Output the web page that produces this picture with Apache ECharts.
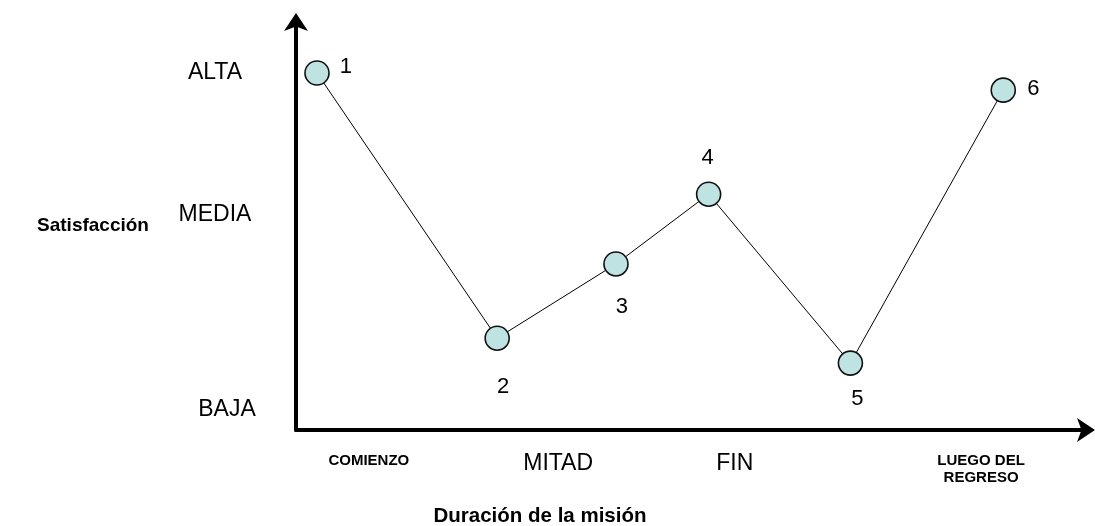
<!DOCTYPE html>
<html>
<head>
<meta charset="utf-8">
<script src="https://cdn.jsdelivr.net/npm/echarts@6/dist/echarts.min.js"></script>
<style>html,body{margin:0;padding:0;background:#fff;}#c{width:1095px;height:526px;}</style>
</head>
<body>
<div id="c"></div>
<script>
// ---- data ----
const pointNames = ['1', '2', '3', '4', '5', '6'];
const durationPos = [2.65, 25.4, 40.4, 52.1, 70.0, 89.3];
const satisfaction = [87.5, 22.5, 40.7, 57.8, 16.4, 83.3];
const xTickLabels = ['COMIENZO', 'MITAD', 'FIN', 'LUEGO DEL\nREGRESO'];
const xTickPos = [9.2, 33.1, 55.4, 86.5];
const yTickLabels = ['BAJA', 'MEDIA', 'ALTA'];
const yTickPos = [4.9, 52.7, 87.5];
const xTitle = 'Duración de la misión';
const yTitle = 'Satisfacción';

// ---- styling ----
const labelOffsets = [[29, -6], [6, 49], [6, 43], [-1, -36], [7, 36], [30, -1]];
const xRich = ['small', 'big', 'big', 'small2'];
const yRich = ['baja', 'media', 'alta'];
const FONT = '"Liberation Sans", Arial, sans-serif';

const chart = echarts.init(document.getElementById('c'), null, {renderer: 'canvas'});
chart.setOption({
  animation: false,
  backgroundColor: '#ffffff',
  grid: {left: 296, right: 7, top: 22, bottom: 96, containLabel: false},
  xAxis: {
    type: 'value', min: 0, max: 100,
    splitLine: {show: false},
    axisTick: {show: false},
    axisLine: {show: true, lineStyle: {color: '#000', width: 4}, symbol: ['none', 'arrow'], symbolSize: [18, 18], symbolOffset: [0, 7]},
    axisLabel: {
      customValues: xTickPos,
      verticalAlign: 'middle',
      margin: 34,
      formatter: function (v) {
        const i = xTickPos.indexOf(v);
        if (i < 0) return '';
        return '{' + xRich[i] + '|' + xTickLabels[i] + '}';
      },
      rich: {
        small: {fontFamily: FONT, fontSize: 15, fontWeight: 'bold', color: '#000', padding: [0, 0, 6, 0]},
        small2: {fontFamily: FONT, fontSize: 15, fontWeight: 'bold', color: '#000', lineHeight: 17, align: 'center', padding: [10, 0, 0, 0]},
        big: {fontFamily: FONT, fontSize: 23, color: '#000'}
      }
    }
  },
  yAxis: {
    type: 'value', min: 0, max: 100,
    splitLine: {show: false},
    axisTick: {show: false},
    axisLine: {show: true, lineStyle: {color: '#000', width: 4}, symbol: ['none', 'arrow'], symbolSize: [18, 18], symbolOffset: [0, 9]},
    axisLabel: {
      customValues: yTickPos,
      align: 'center',
      verticalAlign: 'middle',
      margin: 81,
      formatter: function (v) {
        const i = yTickPos.indexOf(v);
        if (i < 0) return '';
        return '{' + yRich[i] + '|' + yTickLabels[i] + '}';
      },
      rich: {
        alta: {fontFamily: FONT, fontSize: 23, color: '#000'},
        media: {fontFamily: FONT, fontSize: 23, color: '#000'},
        baja: {fontFamily: FONT, fontSize: 23, color: '#000', padding: [0, 0, 0, 24]}
      }
    },
    name: yTitle,
    nameLocation: 'middle',
    nameRotate: 0,
    nameGap: 203,
    nameTextStyle: {fontFamily: FONT, fontSize: 19, fontWeight: 'bold', color: '#000', align: 'center', verticalAlign: 'middle'}
  },
  graphic: [{
    type: 'text', x: 540, y: 516,
    style: {text: xTitle, font: 'bold 20.5px ' + FONT, fill: '#000', textAlign: 'center', textVerticalAlign: 'middle'}
  }],
  series: [{
    type: 'line',
    data: durationPos.map((x, i) => ({
      value: [x, satisfaction[i]],
      name: pointNames[i],
      label: {offset: labelOffsets[i]}
    })),
    lineStyle: {color: '#000', width: 1},
    symbol: 'circle',
    symbolSize: 24,
    showAllSymbol: true,
    itemStyle: {color: '#bfe3e3', borderColor: '#111', borderWidth: 1.6},
    label: {
      show: true, position: 'inside',
      formatter: function (p) { return p.name; },
      fontFamily: FONT, fontSize: 22, color: '#000'
    },
    clip: false,
    z: 3
  }]
});
</script>
</body>
</html>
